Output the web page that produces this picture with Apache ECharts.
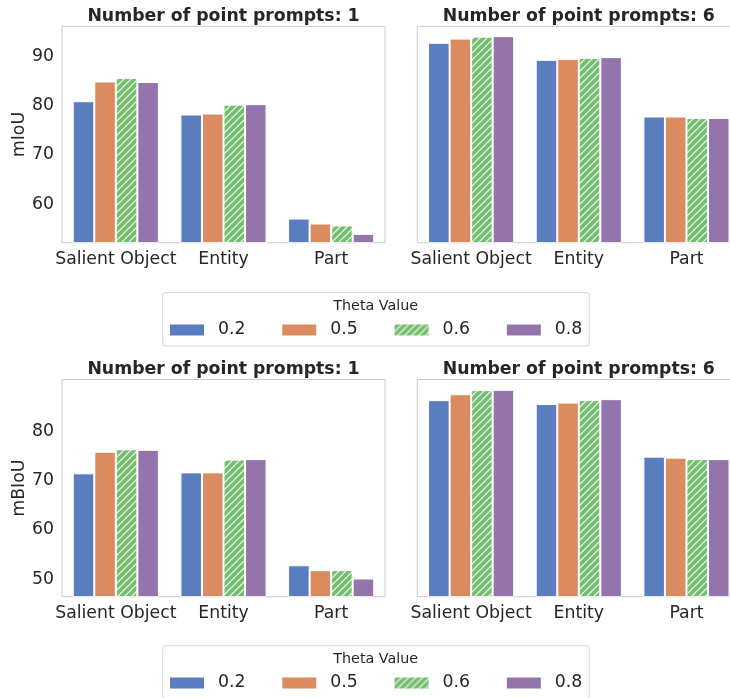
<!DOCTYPE html>
<html>
<head>
<meta charset="utf-8">
<script src="https://cdn.jsdelivr.net/npm/echarts@6/dist/echarts.min.js"></script>
<style>
  html, body { margin: 0; padding: 0; background: #ffffff; }
  #chart { width: 730px; height: 698px; }
</style>
</head>
<body>
<div id="chart"></div>
<script>
// Segmentation quality per granularity level, for each theta value (rows: 0.2, 0.5, 0.6, 0.8)
const categories = ['Salient Object', 'Entity', 'Part'];
const thetaValues = ['0.2', '0.5', '0.6', '0.8'];

const miouOnePrompt = [
  [80.5, 77.8, 56.7],
  [84.5, 78.0, 55.7],
  [85.2, 79.8, 55.3],
  [84.4, 79.9, 53.6]
];
const miouSixPrompts = [
  [92.35, 88.9, 77.4],
  [93.2, 89.05, 77.4],
  [93.6, 89.3, 77.1],
  [93.7, 89.45, 77.1]
];
const mbiouOnePrompt = [
  [71.1, 71.3, 52.4],
  [75.5, 71.3, 51.4],
  [76.0, 73.9, 51.4],
  [75.9, 74.0, 49.7]
];
const mbiouSixPrompts = [
  [86.0, 85.2, 74.5],
  [87.2, 85.5, 74.3],
  [88.05, 86.0, 74.0],
  [88.1, 86.2, 74.0]
];

const miouTicks = [60, 70, 80, 90];
const mbiouTicks = [50, 60, 70, 80];
const panelTitles = ['Number of point prompts: 1', 'Number of point prompts: 6',
                     'Number of point prompts: 1', 'Number of point prompts: 6'];

const palette = ['#597dbf', '#da8b5f', '#76bf71', '#9475ab'];
const textColor = '#262626';
const fontFamily = 'DejaVu Sans';

// Diagonal white hatch on green for theta 0.6
function hatchPattern(base) {
  const s = 7;
  const c = document.createElement('canvas');
  c.width = s; c.height = s;
  const ctx = c.getContext('2d');
  ctx.fillStyle = base;
  ctx.fillRect(0, 0, s, s);
  ctx.strokeStyle = 'rgba(255,255,255,0.95)';
  ctx.lineWidth = 1.1;
  ctx.beginPath();
  ctx.moveTo(-1, s + 1); ctx.lineTo(s + 1, -1);
  ctx.moveTo(-1, 1); ctx.lineTo(1, -1);
  ctx.moveTo(s - 1, s + 1); ctx.lineTo(s + 1, s - 1);
  ctx.stroke();
  return { image: c, repeat: 'repeat' };
}
const seriesColors = [palette[0], palette[1], hatchPattern(palette[2]), palette[3]];

const panels = [
  { data: miouOnePrompt,   left: 62,    top: 26.3,  height: 216.4, min: 51.8, max: 95.7, ticks: miouTicks,  yName: 'mIoU',  showY: true },
  { data: miouSixPrompts,  left: 417.3, top: 26.3,  height: 216.4, min: 51.8, max: 95.7, ticks: miouTicks,  yName: '',      showY: false },
  { data: mbiouOnePrompt,  left: 62,    top: 379.5, height: 217.2, min: 46.0, max: 90.2, ticks: mbiouTicks, yName: 'mBIoU', showY: true },
  { data: mbiouSixPrompts, left: 417.3, top: 379.5, height: 217.2, min: 46.0, max: 90.2, ticks: mbiouTicks, yName: '',      showY: false }
];
const panelWidth = 323;

const grids = [], xAxes = [], yAxes = [], series = [], graphics = [];

panels.forEach((p, g) => {
  grids.push({
    left: p.left, top: p.top, width: panelWidth, height: p.height,
    outerBoundsMode: 'none', containLabel: false,
    show: true, borderColor: '#cccccc', borderWidth: 1, backgroundColor: 'transparent'
  });
  xAxes.push({
    type: 'category', gridIndex: g, data: categories,
    axisLine: { show: false }, axisTick: { show: false }, splitLine: { show: false },
    axisLabel: { interval: 0, margin: 8, fontSize: 17.3, color: textColor, fontFamily: fontFamily }
  });
  yAxes.push({
    type: 'value', gridIndex: g, min: p.min, max: p.max,
    name: p.yName, nameLocation: 'middle', nameGap: 27, nameRotate: 90,
    nameTextStyle: { fontSize: 17.3, color: textColor, fontFamily: fontFamily },
    axisLine: { show: false }, axisTick: { show: false }, splitLine: { show: false },
    // digits sit on the tick's baseline-centre, a little below the box middle
    axisLabel: { show: p.showY, customValues: p.ticks, margin: 8, verticalAlign: 'top', lineHeight: 4,
                 fontSize: 17.3, color: textColor, fontFamily: fontFamily }
  });
  p.data.forEach((vals, t) => {
    series.push({
      type: 'bar', name: thetaValues[t], xAxisIndex: g, yAxisIndex: g, data: vals,
      barGap: '0%', barCategoryGap: '20%',
      itemStyle: { color: seriesColors[t], borderColor: '#ffffff', borderWidth: 1 },
      emphasis: { disabled: true }, silent: true
    });
  });
  graphics.push({
    type: 'text', x: p.left + panelWidth / 2, y: p.top - 9.8,
    style: { text: panelTitles[g], fill: textColor, font: 'bold 17.3px "DejaVu Sans"',
             textAlign: 'center', textVerticalAlign: 'middle' }
  });
});

// Legend frames and their "Theta Value" headings
const legendBoxTops = [292.7, 645.7];
legendBoxTops.forEach(y0 => {
  graphics.push({
    type: 'rect', shape: { x: 162.7, y: y0, width: 426.6, height: 53.3, r: 3 },
    style: { fill: 'rgba(255,255,255,0.8)', stroke: '#d6d6d6', lineWidth: 1 }, z: 0
  });
  graphics.push({
    type: 'text', x: 375.7, y: y0 + 13.2,
    style: { text: 'Theta Value', fill: textColor, font: '14.3px "DejaVu Sans"',
             textAlign: 'center', textVerticalAlign: 'middle' }, z: 1
  });
});

const legends = legendBoxTops.map(y0 => ({
  data: thetaValues, left: 170, top: y0 + 27.3, orient: 'horizontal',
  padding: 0, itemWidth: 34, itemHeight: 11, itemGap: 36.8, icon: 'rect',
  selectedMode: false, z: 5,
  itemStyle: { borderWidth: 0 },
  textStyle: { fontSize: 17.3, color: textColor, fontFamily: fontFamily, lineHeight: 20, padding: [0, 0, 0, 9] }
}));

const chart = echarts.init(document.getElementById('chart'), null, { renderer: 'canvas' });
chart.setOption({
  animation: false,
  backgroundColor: '#ffffff',
  textStyle: { fontFamily: fontFamily },
  grid: grids, xAxis: xAxes, yAxis: yAxes, series: series,
  legend: legends, graphic: graphics
});
</script>
</body>
</html>
